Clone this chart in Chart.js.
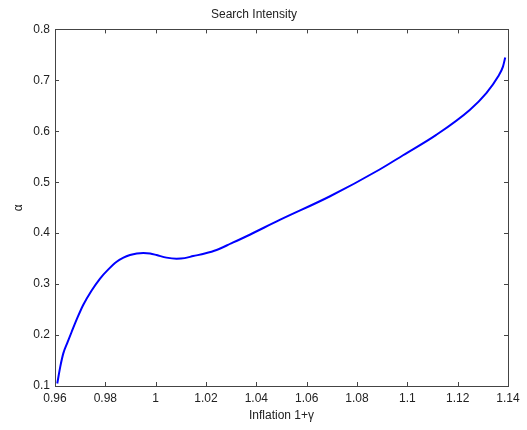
<!DOCTYPE html>
<html>
<head>
<meta charset="utf-8">
<script src="https://cdn.jsdelivr.net/npm/chart.js@4.4.0/dist/chart.umd.min.js"></script>
<style>
  html, body { margin: 0; padding: 0; background: #fff; }
  #wrap { width: 527px; height: 430px; }
</style>
</head>
<body>
<div id="wrap"><canvas id="grafico"></canvas></div>
<script>
// valores
var inflacion = [0.9609, 0.9621, 0.9633, 0.9650, 0.9666, 0.9690, 0.9712, 0.9745, 0.9779, 0.9812, 0.9845, 0.9872, 0.9898, 0.9925,
                 0.9951, 0.9978, 1.0004, 1.0043, 1.0083, 1.0115, 1.0149, 1.0195, 1.0242, 1.0300, 1.0361, 1.0493,
                 1.0691, 1.0890, 1.0983, 1.1115, 1.1248, 1.1314, 1.1360, 1.1380, 1.1389];
var intensidad = [0.105, 0.138, 0.164, 0.186, 0.206, 0.235, 0.259, 0.287, 0.311, 0.329, 0.344, 0.352, 0.357, 0.360,
                  0.361, 0.360, 0.357, 0.352, 0.350, 0.351, 0.355, 0.360, 0.367, 0.380, 0.394, 0.426,
                  0.472, 0.525, 0.553, 0.593, 0.642, 0.675, 0.707, 0.727, 0.745];

var xTicks = [0.96, 0.98, 1, 1.02, 1.04, 1.06, 1.08, 1.1, 1.12, 1.14];
var yTicks = [0.1, 0.2, 0.3, 0.4, 0.5, 0.6, 0.7, 0.8];

var puntos = inflacion.map(function (x, i) { return { x: x, y: intensidad[i] }; });

var fuente = { family: "'Liberation Sans', Arial, sans-serif", size: 12, weight: 'normal' };
var colorTexto = '#222';
var colorEjes = '#444';

// marcas hacia dentro y caja, al estilo MATLAB
var cajaMatlab = {
    id: 'cajaMatlab',
    afterDraw: function (chart) {
        var ctx = chart.ctx;
        var a = chart.chartArea;
        var sx = chart.scales.x, sy = chart.scales.y;
        var largo = 4;
        ctx.save();
        ctx.strokeStyle = colorEjes;
        ctx.lineWidth = 1;
        ctx.beginPath();
        xTicks.forEach(function (v) {
            var px = Math.round(sx.getPixelForValue(v)) + 0.5;
            ctx.moveTo(px, a.bottom); ctx.lineTo(px, a.bottom - largo);
            ctx.moveTo(px, a.top); ctx.lineTo(px, a.top + largo);
        });
        yTicks.forEach(function (v) {
            var py = Math.round(sy.getPixelForValue(v)) + 0.5;
            ctx.moveTo(a.left, py); ctx.lineTo(a.left + largo, py);
            ctx.moveTo(a.right, py); ctx.lineTo(a.right - largo, py);
        });
        ctx.stroke();
        ctx.strokeRect(Math.round(a.left) + 0.5, Math.round(a.top) + 0.5,
                       Math.round(a.right - a.left), Math.round(a.bottom - a.top));
        ctx.restore();
    }
};

new Chart(document.getElementById('grafico'), {
    type: 'line',
    data: {
        datasets: [{
            data: puntos,
            borderColor: '#0000ff',
            borderWidth: 2,
            pointRadius: 0,
            fill: false,
            tension: 0.4,
            cubicInterpolationMode: 'monotone'
        }]
    },
    options: {
        responsive: true,
        maintainAspectRatio: false,
        animation: false,
        layout: { padding: { left: 0, right: 19, top: 0, bottom: 0 } },
        plugins: {
            legend: { display: false },
            tooltip: { enabled: false },
            title: {
                display: true,
                text: 'Search Intensity',
                color: colorTexto,
                font: fuente,
                padding: { top: 7, bottom: 8 }
            }
        },
        scales: {
            x: {
                type: 'linear',
                min: 0.96,
                max: 1.14,
                afterBuildTicks: function (s) { s.ticks = xTicks.map(function (v) { return { value: v }; }); },
                afterFit: function (s) { s.height = 44; },
                grid: { display: false, drawTicks: false },
                border: { display: false },
                ticks: {
                    color: colorTexto,
                    font: fuente,
                    padding: 5,
                    maxRotation: 0,
                    autoSkip: false,
                    callback: function (v) { return String(Number(v.toFixed(4))); }
                },
                title: {
                    display: true,
                    text: 'Inflation 1+γ',
                    color: colorTexto,
                    font: fuente,
                    padding: { top: 0, bottom: 7 }
                }
            },
            y: {
                type: 'linear',
                min: 0.1,
                max: 0.8,
                afterBuildTicks: function (s) { s.ticks = yTicks.map(function (v) { return { value: v }; }); },
                afterFit: function (s) { s.width = 55; },
                grid: { display: false, drawTicks: false },
                border: { display: false },
                ticks: {
                    color: colorTexto,
                    font: fuente,
                    padding: 5,
                    autoSkip: false,
                    callback: function (v) { return String(Number(v.toFixed(4))); }
                },
                title: {
                    display: true,
                    text: 'α',
                    color: colorTexto,
                    font: fuente,
                    padding: { top: 11, bottom: 4 }
                }
            }
        }
    },
    plugins: [cajaMatlab]
});
</script>
</body>
</html>
